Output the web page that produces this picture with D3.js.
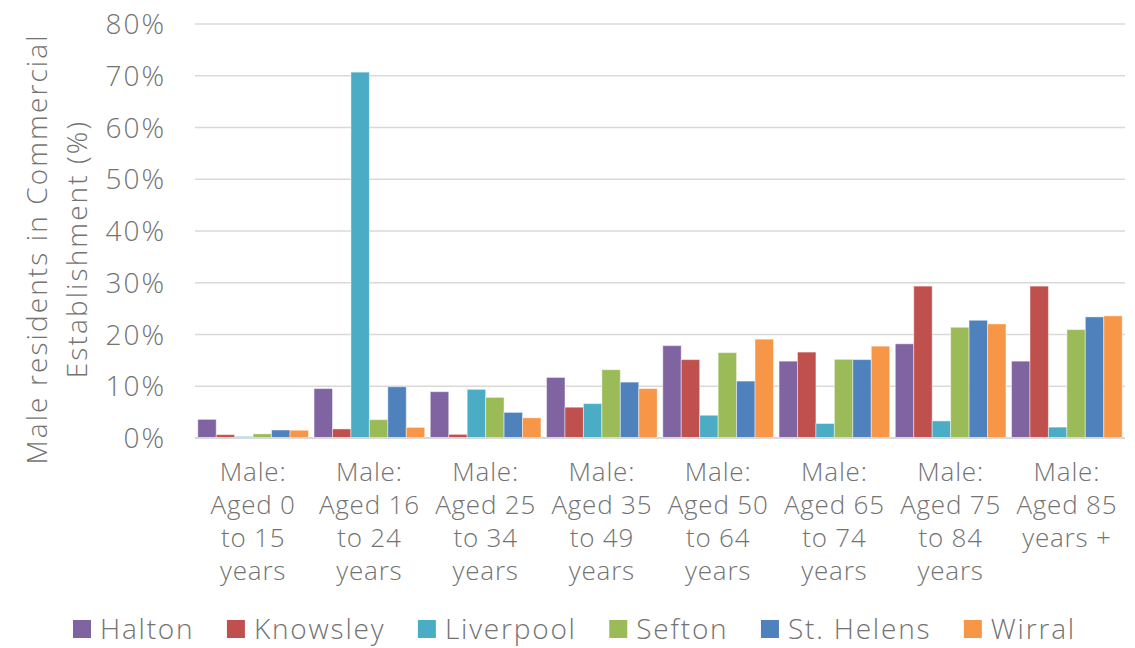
<!DOCTYPE html>
<html>
<head>
<meta charset="utf-8">
<script src="https://cdnjs.cloudflare.com/ajax/libs/d3/7.8.5/d3.min.js"></script>
<style>
  body { margin: 0; background: #fff; }
  text { font-family: "Open Sans", sans-serif; font-weight: 300; fill: #737373; }
</style>
</head>
<body>
<div id="chart"></div>
<script>
// categories and series (percent values)
var categories = [
  ["Male:", "Aged 0", "to 15", "years"],
  ["Male:", "Aged 16", "to 24", "years"],
  ["Male:", "Aged 25", "to 34", "years"],
  ["Male:", "Aged 35", "to 49", "years"],
  ["Male:", "Aged 50", "to 64", "years"],
  ["Male:", "Aged 65", "to 74", "years"],
  ["Male:", "Aged 75", "to 84", "years"],
  ["Male:", "Aged 85", "years +"]
];
var seriesNames = ["Halton", "Knowsley", "Liverpool", "Sefton", "St. Helens", "Wirral"];
var seriesColors = ["#8064A2", "#C0504D", "#4BACC6", "#9BBB59", "#4F81BD", "#F79646"];

var halton    = [3.6, 9.55, 8.95, 11.7, 17.85, 14.85, 18.2, 14.85];
var knowsley  = [0.65, 1.75, 0.7, 5.95, 15.15, 16.6, 29.35, 29.35];
var liverpool = [0.3, 70.7, 9.4, 6.65, 4.4, 2.8, 3.3, 2.1];
var sefton    = [0.8, 3.55, 7.85, 13.2, 16.5, 15.2, 21.4, 20.95];
var stHelens  = [1.55, 9.9, 4.95, 10.8, 11.0, 15.15, 22.75, 23.4];
var wirral    = [1.5, 2.05, 3.9, 9.55, 19.1, 17.75, 22.05, 23.6];

var yTicks = [0, 10, 20, 30, 40, 50, 60, 70, 80];

var seriesValues = [halton, knowsley, liverpool, sefton, stHelens, wirral];

// set the dimensions and margins of the graph
var W = 1135, H = 648;
var margin = {top: 24, right: 10, bottom: 210, left: 195},
    width = W - margin.left - margin.right,
    height = H - margin.top - margin.bottom;

var x0 = d3.scaleBand()
    .domain(d3.range(categories.length))
    .range([0, width])
    .paddingInner(0.048)
    .paddingOuter(0.024);

var x1 = d3.scaleBand()
    .domain(seriesNames)
    .range([0, x0.bandwidth()]);

var y = d3.scaleLinear()
    .domain([0, 80])
    .range([height, 0]);

var svg = d3.select("#chart").append("svg")
    .attr("width", W)
    .attr("height", H);

var g = svg.append("g")
    .attr("transform", "translate(" + margin.left + "," + margin.top + ")");

// gridlines
g.selectAll(".grid")
    .data(yTicks)
    .enter().append("line")
    .attr("x1", 0)
    .attr("x2", width)
    .attr("y1", function(d) { return y(d); })
    .attr("y2", function(d) { return y(d); })
    .attr("stroke", "#d9d9d9")
    .attr("stroke-width", 1.5);

// y tick labels
g.selectAll(".ytick")
    .data(yTicks)
    .enter().append("text")
    .attr("x", -29)
    .attr("y", function(d) { return y(d); })
    .attr("dy", "0.36em")
    .attr("text-anchor", "end")
    .style("font-size", "28px")
    .style("letter-spacing", "2px")
    .text(function(d) { return d + "%"; });

// bars
var groups = g.selectAll(".group")
    .data(categories)
    .enter().append("g")
    .attr("transform", function(d, i) { return "translate(" + x0(i) + ",0)"; });

groups.selectAll("rect")
    .data(function(d, i) {
      return seriesNames.map(function(s, k) { return {name: s, value: seriesValues[k][i], color: seriesColors[k]}; });
    })
    .enter().append("rect")
    .attr("x", function(d) { return x1(d.name); })
    .attr("width", x1.bandwidth())
    .attr("y", function(d) { return y(d.value); })
    .attr("height", function(d) { return y(0) - y(d.value); })
    .attr("fill", function(d) { return d.color; })
    .attr("stroke", "rgba(255,255,255,0.45)")
    .attr("stroke-width", 1);

// baseline
g.append("line")
    .attr("x1", 0).attr("x2", width)
    .attr("y1", y(0)).attr("y2", y(0))
    .attr("stroke", "#d9d9d9")
    .attr("stroke-width", 2);

// category labels
groups.append("text")
    .attr("text-anchor", "middle")
    .style("font-size", "26px")
    .style("letter-spacing", "0.8px")
    .each(function(d) {
      var t = d3.select(this);
      d.forEach(function(line, j) {
        t.append("tspan")
          .attr("x", x0.bandwidth() / 2)
          .attr("y", height + 43 + j * 33)
          .text(line);
      });
    });

// y axis title
var yt = svg.append("text")
    .attr("transform", "translate(57,249) rotate(-90)")
    .attr("text-anchor", "middle")
    .style("font-size", "28px")
    .style("letter-spacing", "2.1px");
yt.append("tspan").attr("x", 0).attr("y", -10).text("Male residents in Commercial");
yt.append("tspan").attr("x", 0).attr("y", 30).text("Establishment (%)");

// legend
var legend = svg.append("g").attr("transform", "translate(73,629)");
var lx = 0;
seriesNames.forEach(function(s, k) {
  var item = legend.append("g").attr("transform", "translate(" + lx + ",0)");
  item.append("rect")
      .attr("x", 0).attr("y", -9)
      .attr("width", 18).attr("height", 18)
      .attr("fill", seriesColors[k]);
  var t = item.append("text")
      .attr("x", 27)
      .attr("dy", "0.36em")
      .style("font-size", "28px")
      .style("letter-spacing", "1.8px")
      .text(s);
  lx += 27 + t.node().getComputedTextLength() + 32.5;
});
</script>
</body>
</html>
